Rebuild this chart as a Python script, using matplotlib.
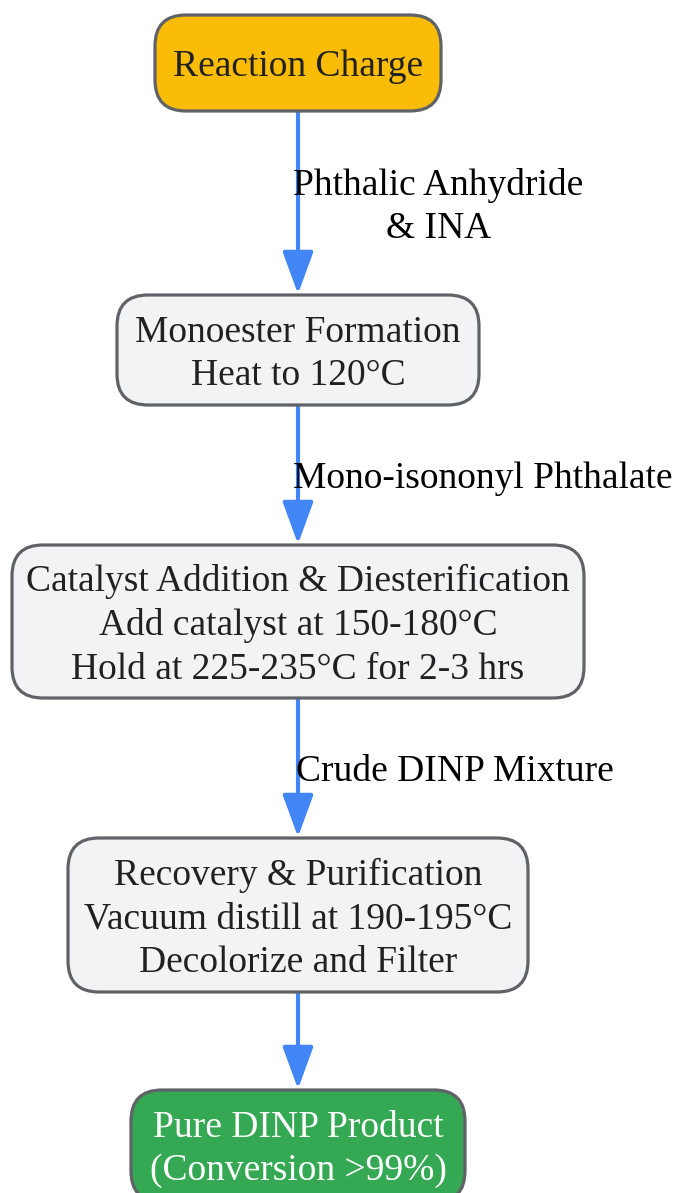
import matplotlib
matplotlib.use("Agg")
import matplotlib.pyplot as plt
from matplotlib.patches import FancyBboxPatch, FancyArrowPatch

W, H = 676, 1193
DPI = 100

# ---- data ----
node_labels = [
    "Reaction Charge",
    "Monoester Formation\nHeat to 120°C",
    "Catalyst Addition & Diesterification\nAdd catalyst at 150-180°C\nHold at 225-235°C for 2-3 hrs",
    "Recovery & Purification\nVacuum distill at 190-195°C\nDecolorize and Filter",
    "Pure DINP Product\n(Conversion >99%)",
]
node_fill = ["#FBBC05", "#F1F3F4", "#F1F3F4", "#F1F3F4", "#34A853"]
node_text_color = ["#202124", "#202124", "#202124", "#202124", "#FFFFFF"]
edge_labels = ["Phthalic Anhydride\n& INA", "Mono-isononyl Phthalate", "Crude DINP Mixture", ""]

# layout (pixels)
node_x0 = [155, 117, 12, 68, 131]
node_x1 = [441, 479, 584, 528, 465]
node_y0 = [15, 295, 545, 838, 1090]
node_y1 = [111, 405, 698, 992, 1202]
edge_label_x = [293, 293, 296, 296]
axis_x = 298

fig = plt.figure(figsize=(W / DPI, H / DPI), dpi=DPI)
ax = fig.add_axes([0, 0, 1, 1])
ax.set_xlim(0, W)
ax.set_ylim(H, 0)
ax.axis("off")

FS = 27
LS = 1.33
DY = 4
font = "Liberation Serif"

for i, lab in enumerate(node_labels):
    x0, x1, y0, y1 = node_x0[i], node_x1[i], node_y0[i], node_y1[i]
    box = FancyBboxPatch((x0, y0), x1 - x0, y1 - y0,
                         boxstyle="round,pad=0,rounding_size=31",
                         facecolor=node_fill[i], edgecolor="#5F6368",
                         linewidth=2.3, zorder=2)
    ax.add_patch(box)
    cy = (y0 + y1) / 2 if i < 4 else 1145
    ax.text((x0 + x1) / 2, cy + DY, lab, ha="center", va="center",
            fontsize=FS, family=font, color=node_text_color[i],
            linespacing=LS, zorder=3)

for i in range(4):
    ys = node_y1[i]
    ye = node_y0[i + 1]
    arr = FancyArrowPatch((axis_x, ys), (axis_x, ye - 1),
                          arrowstyle="-|>,head_length=26,head_width=9.5",
                          mutation_scale=1, shrinkA=0, shrinkB=0,
                          color="#4285F4", linewidth=3, zorder=1)
    ax.add_patch(arr)
    if edge_labels[i]:
        ax.text(edge_label_x[i], (ys + ye) / 2 + DY, edge_labels[i],
                ha="left", va="center", multialignment="center",
                fontsize=FS, family=font, color="#000000",
                linespacing=LS, zorder=3)

fig.savefig("out.png", dpi=DPI, facecolor="white")
